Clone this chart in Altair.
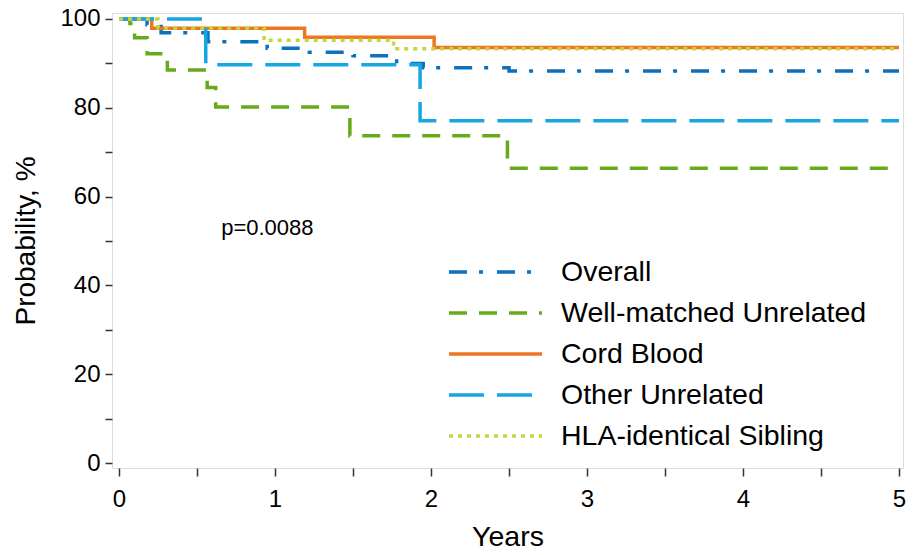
import altair as alt
import pandas as pd

series_names = ["Overall", "Well-matched Unrelated", "Cord Blood",
                "Other Unrelated", "HLA-identical Sibling"]

overall_t = [0, 0.18, 0.27, 0.57, 0.95, 1.22, 1.50, 1.78, 1.95, 2.50, 5.0]
overall_v = [100, 98.7, 96.9, 94.9, 93.4, 92.5, 91.7, 90.0, 89.0, 88.3, 88.3]

wmu_t = [0, 0.07, 0.10, 0.18, 0.31, 0.565, 0.62, 1.48, 2.49, 5.0]
wmu_v = [100, 99.0, 95.8, 92.2, 88.5, 84.6, 80.2, 73.7, 66.4, 66.4]

cord_t = [0, 0.21, 1.19, 2.02, 5.0]
cord_v = [100, 97.9, 95.9, 93.6, 93.6]

other_t = [0, 0.556, 1.93, 5.0]
other_v = [100, 89.7, 77.1, 77.1]

hla_t = [0, 0.25, 0.93, 1.76, 5.0]
hla_v = [100, 98.0, 95.2, 93.3, 93.3]

x_ticks = [0, 0.5, 1, 1.5, 2, 2.5, 3, 3.5, 4, 4.5, 5]
y_ticks = [0, 10, 20, 30, 40, 50, 60, 70, 80, 90, 100]

annot_text = ["p=0.0088"]
annot_x = [0.655]
annot_y = [53.0]

colors = ["#0B70BE", "#67AB1C", "#EE7623", "#16A6E0", "#C4D63A"]
dashes = [[18, 12, 4, 14], [18, 12], [1, 0], [35, 13], [4, 5]]

all_t = [overall_t, wmu_t, cord_t, other_t, hla_t]
all_v = [overall_v, wmu_v, cord_v, other_v, hla_v]
rows = []
for name, ts, vs in zip(series_names, all_t, all_v):
    for t, v in zip(ts, vs):
        rows.append({"series": name, "years": t, "prob": v})
df = pd.DataFrame(rows)

annot_df = pd.DataFrame({"years": annot_x, "prob": annot_y, "label": annot_text})

FONT = "Liberation Sans"

x_enc = alt.X(
    "years:Q",
    scale=alt.Scale(domain=[-0.0449, 5.0256], nice=False, zero=False),
    axis=alt.Axis(
        values=x_ticks,
        labelExpr="datum.value % 1 == 0 ? format(datum.value, 'd') : ''",
        title="Years",
        grid=False,
        domain=False,
        tickSize=8,
        tickWidth=1.5,
        tickColor="#333333",
        labelPadding=11,
        labelFontSize=24,
        titleFontSize=28.5,
        titleFontWeight="normal",
        titlePadding=11,
        labelFont=FONT,
        titleFont=FONT,
        labelColor="#000000",
        titleColor="#000000",
    ),
)
y_enc = alt.Y(
    "prob:Q",
    scale=alt.Scale(domain=[-1.12, 101.35], nice=False, zero=False),
    axis=alt.Axis(
        values=y_ticks,
        labelExpr="datum.value % 20 == 0 ? datum.label : ''",
        title="Probability, %",
        grid=False,
        domain=False,
        tickSize=7,
        tickWidth=1.5,
        tickColor="#333333",
        labelPadding=5,
        labelFontSize=24,
        titleFontSize=28,
        titleFontWeight="normal",
        titlePadding=19,
        labelFont=FONT,
        titleFont=FONT,
        labelColor="#000000",
        titleColor="#000000",
    ),
)

legend_props = dict(
    orient="none",
    legendX=335,
    legendY=242,
    title=None,
    symbolType="stroke",
    symbolSize=8649,
    symbolStrokeWidth=3.5,
    labelFontSize=28.5,
    labelFont=FONT,
    labelColor="#000000",
    labelOffset=17,
    labelLimit=500,
    clipHeight=34,
    rowPadding=7,
    padding=0,
)

lines = alt.Chart(df).mark_line(interpolate="step-after", strokeWidth=3.5).encode(
    x=x_enc,
    y=y_enc,
    color=alt.Color("series:N", sort=series_names,
                    scale=alt.Scale(domain=series_names, range=colors),
                    legend=alt.Legend(**legend_props)),
    strokeDash=alt.StrokeDash("series:N", sort=series_names,
                              scale=alt.Scale(domain=series_names, range=dashes),
                              legend=alt.Legend(**legend_props)),
)

annot = alt.Chart(annot_df).mark_text(
    align="left", baseline="middle", fontSize=22, font=FONT, color="#000000"
).encode(
    x=alt.X("years:Q"),
    y=alt.Y("prob:Q"),
    text="label:N",
)

chart = alt.layer(lines, annot).properties(
    width=791,
    height=455,
    padding={"left": 104, "top": 5, "right": 5, "bottom": 83},
    autosize=alt.AutoSizeParams(type="none"),
).configure_view(
    stroke="#4a4a4a",
    strokeWidth=1.5,
).configure(background="white")

chart.save("out.html", embed_options={"renderer": "svg", "actions": False})
